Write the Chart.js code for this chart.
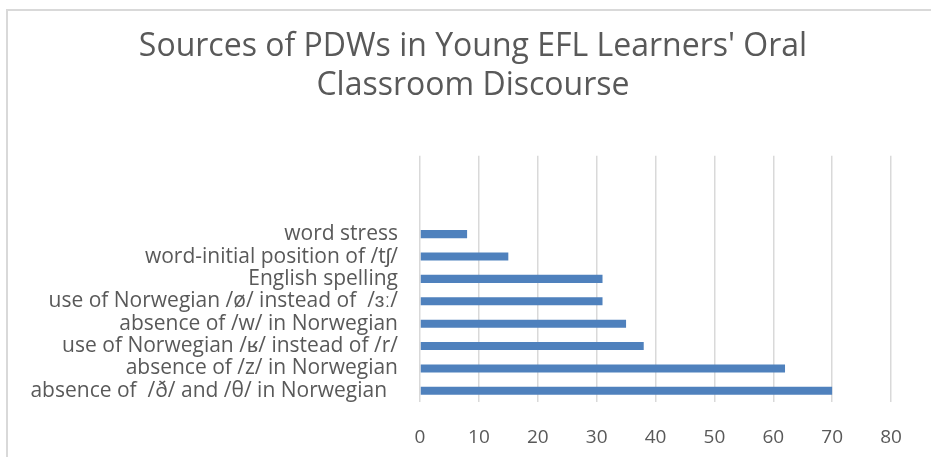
<!DOCTYPE html>
<html>
<head>
<meta charset="utf-8">
<script src="https://cdn.jsdelivr.net/npm/chart.js@4"></script>
<style>
    body { margin: 0; background: #fff; overflow: hidden; }
    #wrap { position: relative; width: 931px; height: 457px; }
    #frame {
        position: absolute; left: 6px; top: 9px; width: 1000px; height: 1000px;
        border-left: 2px solid #d9d9d9; border-top: 2px solid #d9d9d9;
        pointer-events: none;
    }
</style>
</head>
<body>
<div id="wrap">
    <canvas id="myChart" width="931" height="457"></canvas>
    <div id="frame"></div>
</div>
<script>
const chartTitle = ["Sources of PDWs in Young EFL Learners' Oral", 'Classroom Discourse'];

const categories = [
    'word stress',
    'word-initial position of /tʃ/',
    'English spelling',
    'use of Norwegian /ø/ instead of  /ɜː/',
    'absence of /w/ in Norwegian',
    'use of Norwegian /ʁ/ instead of /r/',
    'absence of /z/ in Norwegian',
    'absence of  /ð/ and /θ/ in Norwegian  '
];
const counts = [8, 15, 31, 31, 35, 38, 62, 70];

const xTicks = [0, 10, 20, 30, 40, 50, 60, 70, 80];

// the original sheet has three empty rows above the data
const labels = ['', '', ''].concat(categories);
const values = [null, null, null].concat(counts);

const ctx = document.getElementById('myChart');
const textColor = '#595959';
const fontFamily = "'Open Sans', 'Liberation Sans', sans-serif";

// excel centres the title a bit right of the canvas middle
const titleShift = {
    id: 'titleShift',
    afterLayout(chart) {
        if (chart.titleBlock) chart.titleBlock.left += 55;
    }
};

new Chart(ctx, {
    type: 'bar',
    data: {
        labels: labels,
        datasets: [{
            data: values,
            backgroundColor: '#4f81bd',
            barPercentage: 0.36,
            categoryPercentage: 1
        }]
    },
    plugins: [titleShift],
    options: {
        indexAxis: 'y',
        responsive: false,
        animation: false,
        layout: {
            padding: { top: 0, right: 40, bottom: 0, left: 0 }
        },
        plugins: {
            legend: { display: false },
            tooltip: { enabled: false },
            title: {
                display: true,
                text: chartTitle,
                color: textColor,
                font: { family: fontFamily, size: 32, weight: 'normal', lineHeight: 1.2 },
                padding: { top: 28, bottom: 51 }
            }
        },
        scales: {
            x: {
                min: xTicks[0],
                max: xTicks[xTicks.length - 1],
                afterBuildTicks: (scale) => {
                    scale.ticks = xTicks.map(v => ({ value: v }));
                },
                afterFit: (scale) => { scale.height = 55; },
                border: { display: false },
                grid: { color: '#d9d9d9', lineWidth: 1.5, drawTicks: false },
                ticks: {
                    color: textColor,
                    padding: 24,
                    font: { family: fontFamily, size: 19 }
                }
            },
            y: {
                afterFit: (scale) => { scale.width = 420; },
                border: { display: false },
                grid: { display: false },
                ticks: {
                    color: textColor,
                    padding: 14,
                    autoSkip: false,
                    font: { family: fontFamily, size: 21 }
                }
            }
        }
    }
});
</script>
</body>
</html>
